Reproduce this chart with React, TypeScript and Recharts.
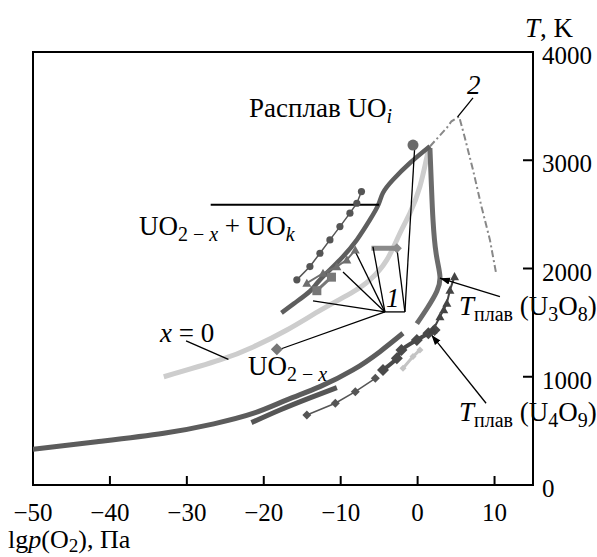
import { ComposedChart, Line, XAxis, YAxis, ReferenceLine, ReferenceArea } from 'recharts';

const xTicks = [-50, -40, -30, -20, -10, 0, 10];
const yTicks = [0, 1000, 2000, 3000, 4000];

// light gray curve, x = 0
const lightX = [-33, -25.7, -21.3, -17, -12.5, -8.5, -6.2, -4, -2.3, -1, 0.3, 1.4];
const lightT = [1000, 1155, 1278, 1432, 1620, 1780, 1895, 2080, 2326, 2511, 2757, 3096];

// long lower curve
const lowMainX = [-50, -41.7, -33, -26.5, -21.3, -17, -12.7, -8.4, -4.9, -1.9];
const lowMainT = [330, 400, 478, 565, 663, 786, 909, 1063, 1232, 1402];

const lowSecondX = [-21.6, -17.9, -14, -10.5];
const lowSecondT = [576, 693, 805, 900];

const diamondsX = [-14.4, -10.7, -8.1, -5.5];
const diamondsT = [647, 755, 862, 986];

const bigDiamondsX = [-4.5, -2.7, -2.1, -0.1, 1.4, 2.2];
const bigDiamondsT = [1063, 1171, 1248, 1340, 1402, 1432];

const triRightX = [2.0, 2.9, 3.4, 3.8, 4.2, 4.8];
const triRightT = [1432, 1555, 1620, 1679, 1800, 1925];

const lightMarkX = [-1.9, -0.6, 0.3];
const lightMarkT = [1078, 1186, 1248];

// upper boundary branches
const rightBranchX = [1.6, 1.8, 2.0, 2.4, 2.9, 2.5, 1.3, -0.1];
const rightBranchT = [3112, 2757, 2449, 2141, 1930, 1790, 1640, 1490];

const upperLeftX = [-17.7, -16, -14, -12.7, -10.1, -7.9, -6.2, -5.1, -4.5, -3.2, -1, 1.6];
const upperLeftT = [1590, 1680, 1790, 1895, 2080, 2265, 2450, 2590, 2700, 2820, 2975, 3130];

// curve 2 (dash-dot)
const curve2X = [1.6, 2.9, 3.8, 4.4, 5.4, 6.1, 7.2, 8.3, 9.4, 10.2];
const curve2T = [3127, 3230, 3300, 3360, 3404, 3219, 2911, 2572, 2264, 1957];

// marker series
const circlesX = [-15.7, -14, -12.7, -11.4, -10.1, -8.8, -7.9, -7.3];
const circlesT = [1895, 2018, 2141, 2264, 2387, 2511, 2603, 2711];

const triUpperX = [-14.4, -12.3, -10.5, -9.2, -8.1];
const triUpperT = [1864, 1956, 2018, 2080, 2172];

const squaresX = [-13.1, -11.2];
const squaresT = [1795, 1920];

const hSegX = [-6.0, -2.7];
const hSegT = [2187, 2187];

const bigCircleX = [-0.6];
const bigCircleT = [3140];

const uoDiamondX = [-18.3];
const uoDiamondT = [1254];

// leader lines of label 1
const hubA = { x: -4.25, y: 1599 };
const hubB = { x: -1.65, y: 1599 };
const leadAX = [-13.6, -9.7, -8.1, -5.8, -17.9];
const leadAT = [1700, 1968, 2156, 2200, 1254];
const leadBX = [-2.7, -0.4];
const leadBT = [2188, 3100];

const pts = (xs: number[], ts: number[]) => xs.map((x, i) => ({ x, T: ts[i] }));

const FONT = "'Liberation Serif', 'Times New Roman', serif";

function marker(kind: string, s: number, fill: string) {
  return (p: any) => {
    const { cx, cy, index } = p;
    const k = `m-${index}`;
    if (cx == null || cy == null) return <g key={k} />;
    if (kind === 'circle') return <circle key={k} cx={cx} cy={cy} r={s} fill={fill} />;
    if (kind === 'square') return <rect key={k} x={cx - s} y={cy - s} width={2 * s} height={2 * s} fill={fill} />;
    if (kind === 'tri')
      return <polygon key={k} points={`${cx},${cy - s} ${cx + s},${cy + s * 0.8} ${cx - s},${cy + s * 0.8}`} fill={fill} />;
    return <polygon key={k} points={`${cx},${cy - s} ${cx + s},${cy} ${cx},${cy + s} ${cx - s},${cy}`} fill={fill} />;
  };
}

const XTick = (p: any) => {
  const { x, y, payload } = p;
  const v = payload.value as number;
  return (
    <g>
      {v !== -50 && <line x1={x} y1={y} x2={x} y2={y - 9} stroke="#000" strokeWidth={2} />}
      <text x={x} y={y + 36} textAnchor="middle" fontSize={25} fontFamily={FONT} fill="#000">
        {v < 0 ? '\u2212' + Math.abs(v) : String(v)}
      </text>
    </g>
  );
};

const YTick = (p: any) => {
  const { x, y, payload } = p;
  const v = payload.value as number;
  return (
    <g>
      {v > 0 && v < 4000 && <line x1={x} y1={y} x2={x - 10} y2={y} stroke="#000" strokeWidth={2} />}
      <text x={x + 9} y={y + 12} textAnchor="start" fontSize={25} fontFamily={FONT} fill="#000">
        {v}
      </text>
    </g>
  );
};

const Arrow = (p: any) => (
  <line x1={p.x1} y1={p.y1} x2={p.x2} y2={p.y2} stroke="#000" strokeWidth={1.3} markerEnd="url(#arr)" />
);

const Sub = ({ children, low = 0.32 }: { children: any; low?: number }) => (
  <span style={{ fontSize: '0.74em', position: 'relative', top: `${low}em` }}>{children}</span>
);

const lbl = (left: number, top: number): any => ({
  position: 'absolute',
  left,
  top,
  fontFamily: FONT,
  fontSize: 27,
  lineHeight: 1,
  whiteSpace: 'nowrap',
  color: '#000',
});

export default function App() {
  const thin = { stroke: '#000', strokeWidth: 1.3, ifOverflow: 'visible' as const };
  return (
    <div style={{ position: 'relative', width: 597, height: 557, background: '#fff', overflow: 'hidden' }}>
      <style>{'body{margin:0}'}</style>
      <ComposedChart width={597} height={557} margin={{ top: 52, right: 4, bottom: 32, left: 33 }}>
        <defs>
          <marker id="arr" viewBox="0 0 10 10" refX="10" refY="5" markerWidth="10" markerHeight="10"
            markerUnits="userSpaceOnUse" orient="auto">
            <path d="M0,1.5 L10,5 L0,8.5 z" fill="#000" />
          </marker>
        </defs>
        <XAxis dataKey="x" type="number" domain={[-50, 15]} ticks={xTicks} interval={0}
          allowDataOverflow height={40} tickSize={0} tickMargin={0} axisLine={false} tickLine={false} tick={<XTick />} />
        <YAxis type="number" orientation="right" domain={[0, 4000]} ticks={yTicks} interval={0}
          allowDataOverflow width={60} tickSize={0} tickMargin={0} axisLine={false} tickLine={false} tick={<YTick />} />

        <Line data={pts(lightX, lightT)} dataKey="T" type="natural" stroke="#cdcdcd" strokeWidth={5}
          dot={false} isAnimationActive={false} />
        <Line data={pts(lowMainX, lowMainT)} dataKey="T" type="natural" stroke="#5c5c5c" strokeWidth={5}
          dot={false} isAnimationActive={false} />
        <Line data={pts(lowSecondX, lowSecondT)} dataKey="T" type="natural" stroke="#555" strokeWidth={5}
          dot={false} isAnimationActive={false} />
        <Line data={pts(diamondsX, diamondsT)} dataKey="T" type="linear" stroke="#555" strokeWidth={1.5}
          dot={marker('diamond', 4.5, '#555')} isAnimationActive={false} />
        <Line data={pts(lightMarkX, lightMarkT)} dataKey="T" type="linear" stroke="#c4c4c4" strokeWidth={3}
          dot={marker('diamond', 3.5, '#c4c4c4')} isAnimationActive={false} />
        <Line data={pts(bigDiamondsX, bigDiamondsT)} dataKey="T" type="natural" stroke="#4a4a4a" strokeWidth={4}
          dot={marker('diamond', 6, '#4a4a4a')} isAnimationActive={false} />
        <Line data={pts(triRightX, triRightT)} dataKey="T" type="linear" stroke="#444" strokeWidth={2}
          dot={marker('tri', 4.5, '#444')} isAnimationActive={false} />
        <Line data={pts(rightBranchX, rightBranchT)} dataKey="T" type="natural" stroke="#6b6b6b" strokeWidth={5}
          dot={false} isAnimationActive={false} />
        <Line data={pts(upperLeftX, upperLeftT)} dataKey="T" type="natural" stroke="#5e5e5e" strokeWidth={4.5}
          dot={false} isAnimationActive={false} />
        <Line data={pts(curve2X, curve2T)} dataKey="T" type="linear" stroke="#888" strokeWidth={2}
          strokeDasharray="7 3 2 3" dot={false} isAnimationActive={false} />
        <Line data={pts(circlesX, circlesT)} dataKey="T" type="linear" stroke="#555" strokeWidth={1.5}
          dot={marker('circle', 3.6, '#555')} isAnimationActive={false} />
        <Line data={pts(triUpperX, triUpperT)} dataKey="T" type="linear" stroke="#6e6e6e" strokeWidth={2}
          dot={marker('tri', 4.5, '#6e6e6e')} isAnimationActive={false} />
        <Line data={pts(squaresX, squaresT)} dataKey="T" type="linear" stroke="#777" strokeWidth={3}
          dot={marker('square', 4.5, '#777')} isAnimationActive={false} />
        <Line data={pts(hSegX, hSegT)} dataKey="T" type="linear" stroke="#8a8a8a" strokeWidth={5}
          dot={false} isAnimationActive={false} />
        <Line data={pts(hSegX.slice(1), hSegT.slice(1))} dataKey="T" type="linear" stroke="none"
          dot={marker('diamond', 5, '#8a8a8a')} isAnimationActive={false} />
        <Line data={pts(bigCircleX, bigCircleT)} dataKey="T" stroke="none"
          dot={marker('circle', 5.5, '#6a6a6a')} isAnimationActive={false} />
        <Line data={pts(uoDiamondX, uoDiamondT)} dataKey="T" stroke="none"
          dot={marker('diamond', 6, '#777')} isAnimationActive={false} />

        {leadAX.map((x, i) => (
          <ReferenceLine key={`la${i}`} segment={[hubA, { x, y: leadAT[i] }]} {...thin} />
        ))}
        <ReferenceLine segment={[hubA, hubB]} {...thin} />
        {leadBX.map((x, i) => (
          <ReferenceLine key={`lb${i}`} segment={[hubB, { x, y: leadBT[i] }]} {...thin} />
        ))}
        <ReferenceLine segment={[{ x: -26.9, y: 2588 }, { x: -5.0, y: 2588 }]} stroke="#000" strokeWidth={2} ifOverflow="visible" />
        <ReferenceLine segment={[{ x: -30.1, y: 1331 }, { x: -24.6, y: 1160 }]} {...thin} />
        <ReferenceLine segment={[{ x: 7.2, y: 3577 }, { x: 5.2, y: 3401 }]} {...thin} />
        <ReferenceLine segment={[{ x: 10.7, y: 1740 }, { x: 2.9, y: 1910 }]} ifOverflow="visible" shape={<Arrow />} />
        <ReferenceLine segment={[{ x: 8.9, y: 755 }, { x: 1.8, y: 1386 }]} ifOverflow="visible" shape={<Arrow />} />

        <ReferenceArea x1={-50} x2={15} y1={0} y2={4000} fill="none" stroke="#000" strokeWidth={2} fillOpacity={0}
          ifOverflow="visible" />
      </ComposedChart>

      <div style={lbl(525, 15)}><i>T</i>, K</div>
      <div style={lbl(249, 95)}>Расплав UO<Sub><i>i</i></Sub></div>
      <div style={lbl(139, 213)}>UO<Sub>2 − <i>x</i></Sub> + UO<Sub><i>k</i></Sub></div>
      <div style={lbl(160, 320)}><i>x</i> = 0</div>
      <div style={lbl(248, 353)}>UO<Sub>2 − <i>x</i></Sub></div>
      <div style={lbl(386, 285)}><i>1</i></div>
      <div style={lbl(467, 72)}><i>2</i></div>
      <div style={lbl(459, 293)}><i>T</i><Sub>плав</Sub> (U<Sub>3</Sub>O<Sub>8</Sub>)</div>
      <div style={lbl(459, 399)}><i>T</i><Sub>плав</Sub> (U<Sub>4</Sub>O<Sub>9</Sub>)</div>
      <div style={{ ...lbl(8, 527), fontSize: 26 }}>lg<i>p</i>(O<Sub low={0.2}>2</Sub>), Па</div>
    </div>
  );
}
